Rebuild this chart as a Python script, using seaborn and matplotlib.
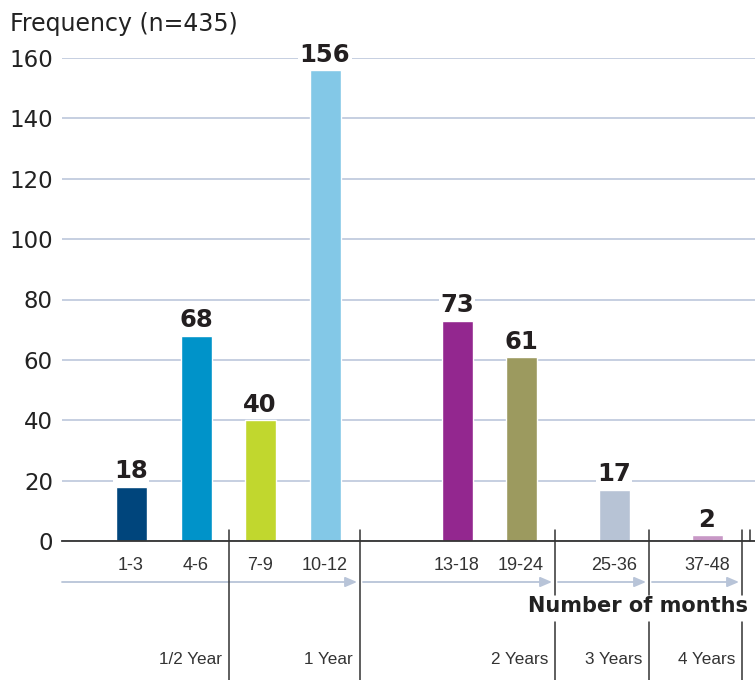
import numpy as np
import pandas as pd
import matplotlib
matplotlib.use("Agg")
import matplotlib.pyplot as plt
import seaborn as sns

# ---------------- data ----------------
categories = ["1-3", "4-6", "7-9", "10-12", "13-18", "19-24", "25-36", "37-48"]
frequency = [18, 68, 40, 156, 73, 61, 17, 2]
bar_colors = ["#00457c", "#0093c9", "#c1d72e", "#83c8e7",
              "#93278f", "#9c9a5f", "#b7c3d5", "#c898c6"]
year_labels = ["1/2 Year", "1 Year", "2 Years", "3 Years", "4 Years"]
y_ticks = [0, 20, 40, 60, 80, 100, 120, 140, 160]
y_title = "Frequency (n=435)"
x_title = "Number of months"

# ---------------- layout (figure pixel units) ----------------
bar_x = [131, 196, 260, 325, 457, 521, 614, 707]
sep_x = [229, 360, 555, 649, 742]
W, H = 755, 680
AX_L, AX_R, AX_BOT, AX_TOP = 62, 755, 541, 58

sns.set_style("white")
plt.rcParams["font.family"] = ["DejaVu Sans"]

fig = plt.figure(figsize=(W / 100, H / 100), dpi=100)
ax = fig.add_axes([AX_L / W, (H - AX_BOT) / H, (AX_R - AX_L) / W, (AX_BOT - AX_TOP) / H])


def py(p):
    """figure pixel row -> data y"""
    return (AX_BOT - p) * 160 / (AX_BOT - AX_TOP)


df = pd.DataFrame({"x": bar_x, "freq": frequency, "cat": categories})
sns.barplot(data=df, x="x", y="freq", hue="cat",
            palette=dict(zip(categories, bar_colors)),
            native_scale=True, dodge=False, width=31 / 64,
            errorbar=None, saturation=1, legend=False, ax=ax, zorder=3)

ax.set_xlim(AX_L, AX_R)
ax.set_ylim(0, 160)
ax.set_xlabel("")
ax.set_ylabel("")
ax.set_axisbelow(True)

ax.yaxis.grid(True, color="#b6c2d9", lw=1.1)
ax.xaxis.grid(False)
for s in ["left", "top", "right"]:
    ax.spines[s].set_visible(False)
ax.spines["bottom"].set_color("#333333")
ax.spines["bottom"].set_linewidth(1.3)
ax.spines["bottom"].set_zorder(4)

ax.set_yticks(y_ticks)
ax.set_yticklabels([str(t) for t in y_ticks], fontsize=16.5, color="#222222")
ax.tick_params(axis="y", length=0, pad=6.5)

ax.set_xticks(bar_x)
ax.set_xticklabels(categories, fontfamily="Liberation Sans", fontsize=13, color="#333333")
ax.tick_params(axis="x", length=0, pad=11.5)

# value labels
for x, v in zip(bar_x, frequency):
    ax.annotate(str(v), xy=(x, v), xytext=(0, 6), textcoords="offset points",
                ha="center", va="baseline", fontsize=17.5, fontweight="bold",
                color="#231f20", zorder=6, annotation_clip=False,
                bbox=dict(fc="white", ec="none", pad=1))

# separators
line_kw = dict(color="#333333", lw=1.1, clip_on=False, zorder=4)
for i, sx in enumerate(sep_x):
    if i < 2:
        ax.plot([sx, sx], [py(530), py(690)], **line_kw)
    else:
        ax.plot([sx, sx], [py(530), py(595)], **line_kw)
        ax.plot([sx, sx], [py(622), py(690)], **line_kw)
ax.plot([750, 750], [py(530), 0], **line_kw)

# arrows
starts = [AX_L] + [s + 3 for s in sep_x[1:4]]
ends = [s - 3 for s in sep_x[1:]]
for a, b in zip(starts, ends):
    ax.annotate("", xy=(b, py(582)), xytext=(a, py(582)),
                arrowprops=dict(arrowstyle="-|>,head_length=0.7,head_width=0.3",
                                color="#b8c4d8", lw=1.3, shrinkA=0, shrinkB=0),
                annotation_clip=False)

# year labels
for sx, lab in zip(sep_x, year_labels):
    ax.text(sx - 7, py(660), lab, ha="right", va="center",
            fontfamily="Liberation Sans", fontsize=12.3, color="#333333", clip_on=False)

ax.text(748, py(606), x_title, ha="right", va="center", fontsize=15,
        fontweight="bold", color="#222222", clip_on=False)

fig.text(10 / W, 1 - 31 / H, y_title, ha="left", va="baseline", fontsize=17,
         color="#222222")

fig.savefig("out.png", dpi=100)
